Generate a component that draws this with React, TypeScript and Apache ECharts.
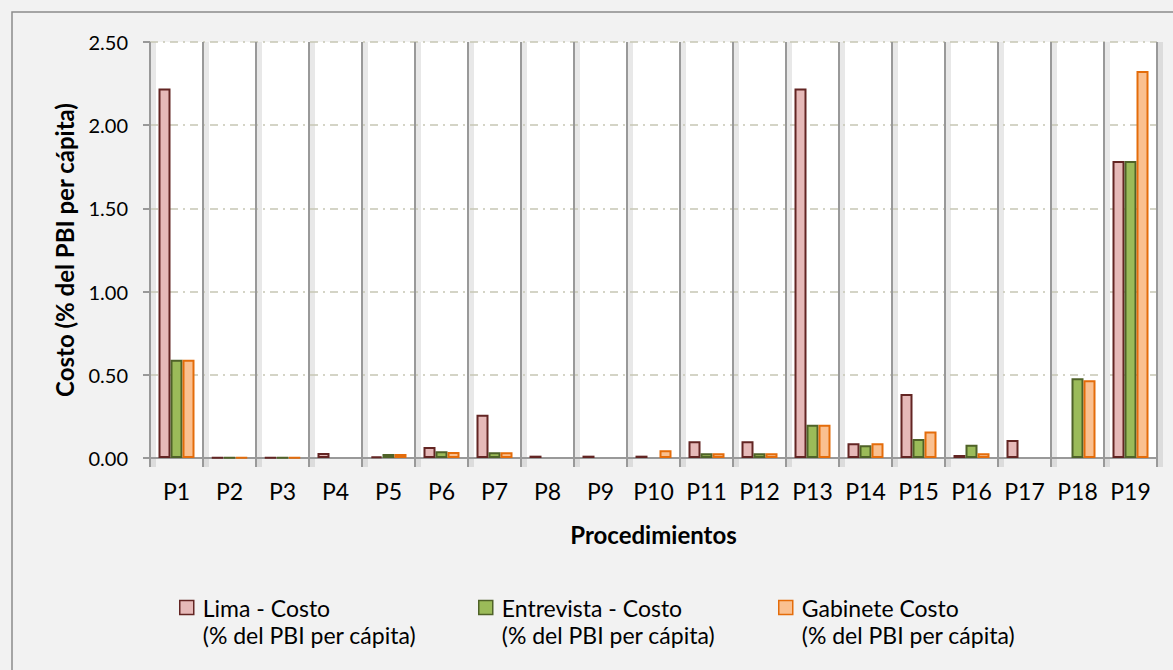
import React, { useEffect, useRef } from "react";
import * as echarts from "echarts";

const categories = ["P1", "P2", "P3", "P4", "P5", "P6", "P7", "P8", "P9", "P10", "P11", "P12", "P13", "P14", "P15", "P16", "P17", "P18", "P19"];
const limaCosto = [2.22, 0.003, 0.003, 0.03, 0.01, 0.066, 0.26, 0.014, 0.014, 0.014, 0.1, 0.1, 2.22, 0.088, 0.384, 0.018, 0.108, null, 1.785];
const entrevistaCosto = [0.59, 0.003, 0.003, null, 0.024, 0.04, 0.034, null, null, null, 0.028, 0.028, 0.2, 0.076, 0.114, 0.08, null, 0.48, 1.785];
const gabineteCosto = [0.59, 0.003, 0.003, null, 0.024, 0.036, 0.034, null, null, 0.046, 0.028, 0.028, 0.2, 0.088, 0.16, 0.028, null, 0.467, 2.325];
const seriesNames = ["Lima - Costo", "Entrevista - Costo", "Gabinete Costo"];
const legendSubtitle = "(% del PBI per cápita)";
const yTicks = [0, 0.5, 1, 1.5, 2, 2.5];

const FONT = "Lato";
const fills = ["#e6b9b8", "#9bbb59", "#fac090"];
const borders = ["#632523", "#4f6228", "#e46c0a"];
const LH = 27;

export default function App() {
  const ref = useRef<HTMLDivElement>(null);
  useEffect(() => {
    if (!ref.current) return;
    const chart = echarts.init(ref.current, null, { renderer: "svg" });
    const data = [limaCosto, entrevistaCosto, gabineteCosto];
    const legendLefts = [179, 478, 778];
    chart.setOption({
      animation: false,
      backgroundColor: "#f2f2f2",
      textStyle: { fontFamily: FONT },
      graphic: [
        {
          type: "rect",
          shape: { x: 12, y: 12, width: 1200, height: 700 },
          style: { fill: "none", stroke: "#8c8c8c", lineWidth: 1.5 },
          silent: true,
          z: -1,
        },
      ],
      grid: [
        {
          left: 150,
          right: 16,
          top: 42,
          bottom: 212,
          show: true,
          backgroundColor: "#ffffff",
          borderWidth: 0,
          z: 0,
        },
        {
          left: 153,
          right: 13,
          top: 42,
          bottom: 203,
          show: false,
          z: 1,
        },
      ],
      xAxis: [
        {
          type: "category",
          gridIndex: 0,
          data: categories,
          boundaryGap: true,
          name: "Procedimientos",
          nameLocation: "middle",
          nameGap: 64,
          nameTextStyle: { fontFamily: FONT, fontSize: 24, fontWeight: "bold", color: "#000" },
          axisLine: { show: true, lineStyle: { color: "#999999", width: 2 } },
          axisTick: { show: true, length: 9, lineStyle: { color: "#999999", width: 2 } },
          axisLabel: { fontFamily: FONT, fontSize: 23, color: "#000", margin: 21, interval: 0 },
          splitLine: { show: true, lineStyle: { color: "#999999", width: 2 } },
          z: 3,
        },
        {
          type: "category",
          gridIndex: 1,
          data: categories,
          boundaryGap: true,
          axisLine: { show: false },
          axisTick: { show: false },
          axisLabel: { show: false },
          splitLine: { show: true, lineStyle: { color: "rgba(0,0,0,0.09)", width: 5 } },
          z: 1,
        },
      ],
      yAxis: [
        {
          type: "value",
          gridIndex: 0,
          min: yTicks[0],
          max: yTicks[yTicks.length - 1],
          interval: 0.5,
          name: "Costo (% del PBI per cápita)",
          nameLocation: "middle",
          nameGap: 74,
          nameTextStyle: { fontFamily: FONT, fontSize: 24, fontWeight: "bold", color: "#000" },
          axisLine: { show: false },
          axisTick: { show: true, length: 7, lineStyle: { color: "#999999", width: 2 } },
          axisLabel: {
            fontFamily: FONT,
            fontSize: 20,
            color: "#000",
            margin: 22,
            formatter: (v: number) => v.toFixed(2),
          },
          splitLine: {
            show: true,
            lineStyle: { color: "#c6c6b4", width: 1.5, type: [8, 5, 2, 5] },
          },
          z: 2,
        },
        {
          type: "value",
          gridIndex: 1,
          min: yTicks[0],
          max: yTicks[yTicks.length - 1],
          show: false,
          splitLine: { show: false },
        },
      ],
      legend: seriesNames.map((name, i) => ({
        data: [name],
        left: legendLefts[i],
        top: 567,
        padding: 0,
        itemWidth: 14,
        itemHeight: 14,
        icon: "rect",
        selectedMode: false,
        itemStyle: { color: fills[i], borderColor: borders[i], borderWidth: 1.5 },
        formatter: (n: string) => " \n" + n + "\n" + legendSubtitle,
        textStyle: {
          fontFamily: FONT,
          fontSize: 23,
          color: "#000",
          lineHeight: LH,
          padding: [0, 0, 0, 4],
        },
      })),
      series: seriesNames.map((name, i) => ({
        name,
        type: "bar",
        xAxisIndex: 0,
        yAxisIndex: 0,
        data: data[i],
        barWidth: 12,
        barGap: "0%",
        z: 4,
        itemStyle: { color: fills[i], borderColor: borders[i], borderWidth: 2 },
        emphasis: { disabled: true },
      })),
    });
    return () => chart.dispose();
  }, []);
  return <div ref={ref} style={{ position: "absolute", left: 0, top: 0, width: 1173, height: 670 }} />;
}
